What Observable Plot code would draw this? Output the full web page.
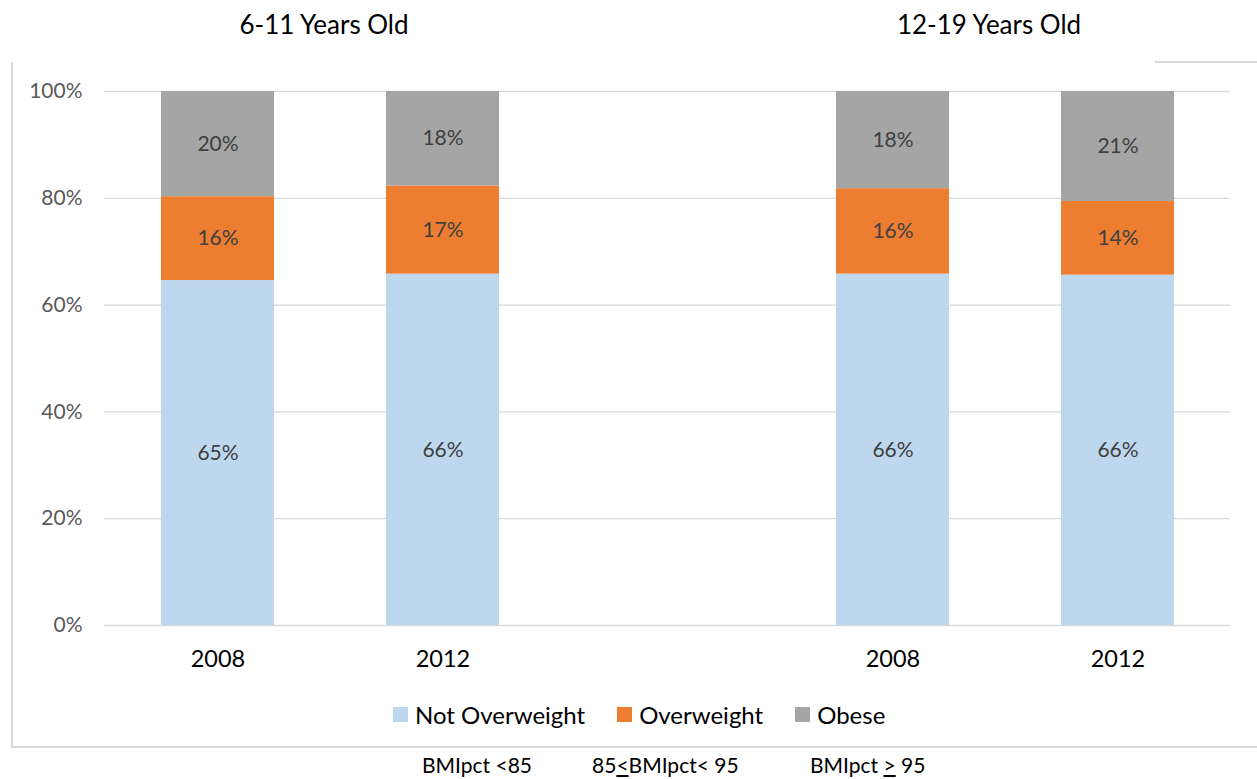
<!DOCTYPE html>
<html>
<head>
<meta charset="utf-8">
<script src="https://cdn.jsdelivr.net/npm/d3@7"></script>
<script src="https://cdn.jsdelivr.net/npm/@observablehq/plot@0.6"></script>
<style>
  body { margin: 0; background: #fff; font-family: Lato, "Open Sans", sans-serif; }
  #wrap { position: relative; width: 1257px; height: 779px; overflow: hidden; }
  #wrap svg { position: absolute; left: 0; top: 0; }
  .abs { position: absolute; white-space: nowrap; }
  .title { font-size: 26px; color: #000; top: 8px; transform: translateX(-50%); }
  .line { position: absolute; background: #d9d9d9; }
  #legend { position: absolute; top: 700px; left: 393px; display: flex; align-items: center; font-size: 24px; color: #000; }
  #legend .item { display: flex; align-items: center; margin-right: 32px; }
  #legend .sw { width: 15px; height: 15px; margin-right: 7px; }
  .note { font-size: 21px; color: #000; top: 752px; }
  .u { text-decoration: underline; }
</style>
</head>
<body>
<div id="wrap"></div>
<script>
// ---- data ----
const groups = ["6-11 Years Old", "12-19 Years Old"];
const years = ["2008", "2012"];
const seriesNames = ["Not Overweight", "Overweight", "Obese"];
const seriesColors = ["#bdd7ee", "#ed7d31", "#a5a5a5"];
// values (%) per series, in order: 6-11/2008, 6-11/2012, 12-19/2008, 12-19/2012
const notOverweight = [64.6, 65.8, 65.8, 65.6];
const overweight    = [15.7, 16.5, 16.0, 13.8];
const obese         = [19.7, 17.7, 18.2, 20.6];
const yTicks = [0, 20, 40, 60, 80, 100];
const notes = ["BMIpct <85", "85<span class='u'><</span>BMIpct< 95", "BMIpct <span class='u'>></span> 95"];

// categories on x: group A years, an empty gap slot, group B years
const cats = ["A2008", "A2012", "gap", "B2008", "B2012"];
const catKeys = ["A2008", "A2012", "B2008", "B2012"];
const seriesValues = [notOverweight, overweight, obese];

const data = [];
catKeys.forEach((c, i) => {
  seriesNames.forEach((s, j) => data.push({cat: c, series: s, value: seriesValues[j][i]}));
});

const plot = Plot.plot({
  width: 1257,
  height: 779,
  marginTop: 91,
  marginBottom: 154,
  marginLeft: 104,
  marginRight: 27,
  style: {fontFamily: "Lato, 'Open Sans', sans-serif", background: "transparent"},
  x: {domain: cats, paddingInner: 0.5, paddingOuter: 0.25, label: null},
  y: {domain: [0, 100], label: null},
  color: {domain: seriesNames, range: seriesColors},
  marks: [
    Plot.gridY(yTicks, {stroke: "#d9d9d9", strokeOpacity: 1, strokeWidth: 1.3}),
    Plot.barY(data, {x: "cat", y: "value", fill: "series", order: seriesNames}),
    Plot.text(data, Plot.stackY({x: "cat", y: "value", z: "series", order: seriesNames,
      text: d => Math.round(d.value) + "%", fill: "#404040", fontSize: 21})),
    Plot.axisY(yTicks, {tickSize: 0, tickPadding: 22, tickFormat: d => d + "%", fontSize: 21, fill: "#595959", label: null}),
    Plot.axisX({tickSize: 0, tickPadding: 25, fontSize: 23.5, fill: "#000",
      tickFormat: d => d === "gap" ? "" : d.slice(1), label: null})
  ]
});

const wrap = document.getElementById("wrap");
// chart frame
const lines = [
  {l: 11, t: 62, w: 2, h: 686},
  {l: 11, t: 746, w: 1246, h: 2},
  {l: 1155, t: 61, w: 102, h: 2}
];
lines.forEach(o => {
  const d = document.createElement("div");
  d.className = "line";
  Object.assign(d.style, {left: o.l + "px", top: o.t + "px", width: o.w + "px", height: o.h + "px"});
  wrap.appendChild(d);
});
wrap.appendChild(plot);

// group titles centred over their year pairs
const xs = plot.scale("x");
const bw = xs.bandwidth || 0;
const titleShift = [-6, -16];
[["A2008", "A2012"], ["B2008", "B2012"]].forEach((pair, i) => {
  const cx = (xs.apply(pair[0]) + xs.apply(pair[1])) / 2 + bw / 2 + titleShift[i];
  const t = document.createElement("div");
  t.className = "abs title";
  t.style.left = cx + "px";
  t.textContent = groups[i];
  wrap.appendChild(t);
});

// legend
const lg = document.createElement("div");
lg.id = "legend";
seriesNames.forEach((s, i) => {
  const it = document.createElement("div");
  it.className = "item";
  it.innerHTML = `<div class="sw" style="background:${seriesColors[i]}"></div><span>${s}</span>`;
  lg.appendChild(it);
});
wrap.appendChild(lg);

// notes under the frame
const noteX = [422, 592, 810];
notes.forEach((n, i) => {
  const d = document.createElement("div");
  d.className = "abs note";
  d.style.left = noteX[i] + "px";
  d.innerHTML = n;
  wrap.appendChild(d);
});
</script>
</body>
</html>
